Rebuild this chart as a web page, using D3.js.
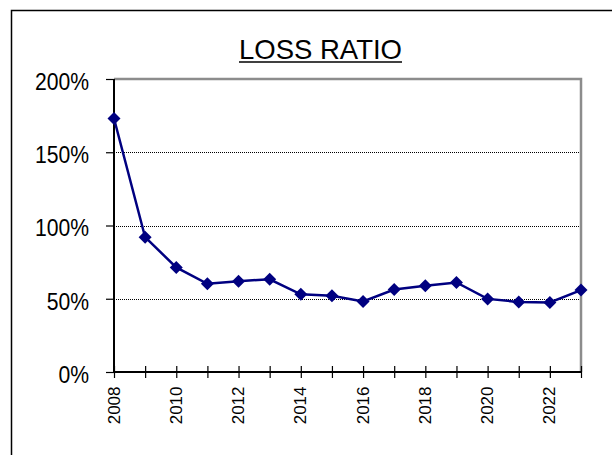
<!DOCTYPE html>
<html>
<head>
<meta charset="utf-8">
<script src="https://cdn.jsdelivr.net/npm/d3@7"></script>
<style>
body { margin:0; background:#fff; }
svg { display:block; font-family:"Liberation Sans", Arial, sans-serif; }
</style>
</head>
<body>
<svg id="loss-chart"></svg>
<script>
// Loss Ratio line chart

// data
var years = [2008, 2009, 2010, 2011, 2012, 2013, 2014, 2015, 2016, 2017, 2018, 2019, 2020, 2021, 2022, 2023];
var lossRatio = [1.73, 0.92, 0.714, 0.602, 0.62, 0.633, 0.53, 0.52, 0.482, 0.563, 0.588, 0.611, 0.499, 0.478, 0.475, 0.559];
var yTicks = [0, 0.5, 1, 1.5, 2];
var xLabels = [2008, 2010, 2012, 2014, 2016, 2018, 2020, 2022];
var title = "LOSS RATIO";

var w = 612, h = 455;
var margin = {top:79, right:31, bottom:83, left:114},
width = w - margin.left - margin.right,
height = h - margin.top - margin.bottom;

var svg = d3.select("#loss-chart")
.attr("width", w)
.attr("height", h);

// outer frame (runs off the right and bottom)
svg.append("path")
.attr("d", "M11.5,460 V10.5 H620")
.attr("fill", "none")
.attr("stroke", "#000")
.attr("stroke-width", 1.5);

// title
var t = svg.append("text")
.attr("x", 320.5)
.attr("y", 58.5)
.attr("text-anchor", "middle")
.style("font-size", "27.5px")
.text(title);
var tb = t.node().getBBox();
svg.append("line")
.attr("x1", tb.x).attr("x2", tb.x + tb.width)
.attr("y1", 62).attr("y2", 62)
.attr("stroke", "#000")
.attr("stroke-width", 1.5);

var g = svg.append("g")
.attr("transform", "translate(" + margin.left + "," + margin.top + ")");

var x = d3.scaleLinear()
.domain([years[0], years[years.length - 1]])
.range([0, width]);

var y = d3.scaleLinear()
.domain([0, 2])
.range([height, 0]);

// grid lines
g.selectAll(".grid")
.data(yTicks.filter(function(d){ return d > 0 && d < 2; }))
.enter()
.append("line")
.attr("x1", 0).attr("x2", width)
.attr("y1", function(d){ return Math.round(y(d)) + 0.5; })
.attr("y2", function(d){ return Math.round(y(d)) + 0.5; })
.attr("stroke", "#000")
.attr("stroke-width", 1)
.attr("stroke-dasharray", "1,1");

// plot border top / right
g.append("path")
.attr("d", "M0," + y(2) + " H" + width + " V" + height)
.attr("fill", "none")
.attr("stroke", "#8c8c8c")
.attr("stroke-width", 2.5);

// y axis
var yAxis = g.append("g")
.call(d3.axisLeft(y).tickValues(yTicks).tickSize(8).tickFormat(d3.format(".0%")));
yAxis.select(".domain").attr("stroke-width", 2).attr("d", "M0," + y(2) + "V" + height);
yAxis.selectAll("line").attr("stroke-width", 1.2);
// labels are a bit condensed in the original
yAxis.selectAll("text")
.attr("x", -25 / 0.92)
.attr("dy", "0.45em")
.attr("transform", "scale(0.92,1)")
.attr("fill", "#000")
.style("font-size", "23px")
.style("font-family", "Liberation Sans, Arial, sans-serif");

// x axis, ticks cross the line
var xAxis = g.append("g")
.attr("transform", "translate(0," + height + ")")
.call(d3.axisBottom(x).tickValues(years).tickSize(6).tickFormat(""));
xAxis.select(".domain").attr("stroke-width", 2).attr("d", "M0,0H" + width);
xAxis.selectAll(".tick line").attr("y1", -6).attr("stroke-width", 1.2);

g.selectAll(".xlab")
.data(xLabels)
.enter()
.append("text")
.attr("transform", function(d){ return "translate(" + (x(d) + 5.5) + "," + (height + 14.5) + ")rotate(-90)"; })
.attr("text-anchor", "end")
.style("font-size", "17px")
.text(function(d){ return d; });

// line
var line = d3.line()
.x(function(d, i){ return x(years[i]); })
.y(function(d){ return y(d); });

g.append("path")
.datum(lossRatio)
.attr("d", line)
.attr("fill", "none")
.attr("stroke", "#000080")
.attr("stroke-width", 2.5);

// diamond markers
g.selectAll(".pt")
.data(lossRatio)
.enter()
.append("path")
.attr("transform", function(d, i){ return "translate(" + x(years[i]) + "," + y(d) + ")"; })
.attr("d", "M0,-6.5 L6.5,0 L0,6.5 L-6.5,0 Z")
.attr("fill", "#000080");
</script>
</body>
</html>
